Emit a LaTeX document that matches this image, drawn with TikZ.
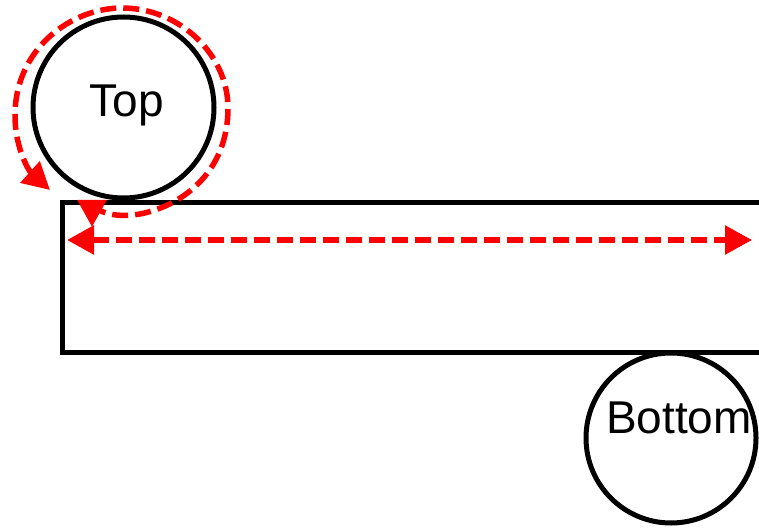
\documentclass[tikz,border=0pt]{standalone}
\usepackage{fontspec}
\setmainfont{Liberation Sans}
\usetikzlibrary{arrows.meta}
\begin{document}
\begin{tikzpicture}[x=1pt,y=-1pt,
  outline/.style={draw=black, line width=5pt},
  ball/.style={outline, circle, inner sep=0pt},
  slab/.style={outline, rectangle, inner sep=0pt, anchor=north west},
  tag/.style={font=\fontsize{46}{55}\selectfont, anchor=base, inner sep=0pt},
  tip/.tip={Triangle[length=27pt,width=28pt]},
  motion/.style={draw=red, line width=5.5pt, dash pattern=on 16pt off 7pt, tip-tip}]
\useasboundingbox (0,0) rectangle (759,529);
\clip (0,0) rectangle (759,529);

% the plate and the two rollers
\node[slab, minimum width=701pt, minimum height=150pt] (plate) at (59.5,200) {};
\node[ball, minimum size=181pt] (top) at (123.5,107.5) {};
\node[ball, minimum size=170pt] (bottom) at (671,438) {};
\node[tag] (toplabel) at (127,117) {Top};
\node[tag] (bottomlabel) at (679,433) {Bottom};

% travel of the plate
\coordinate (spanL) at (67,240);
\coordinate (spanR) at (752,240);
\draw[motion] (spanL) -- (spanR);

% rotation of the top roller
\coordinate (rollA) at (50,190);
\coordinate (rollB) at (92,227);
\draw[motion] (rollA)
  .. controls (30,172) and (15,150) .. (15,115)
  .. controls (15,50) and (70,8) .. (122,8)
  .. controls (180,8) and (228,55) .. (228,108)
  .. controls (228,170) and (185,205) .. (140,214)
  .. controls (112,219) and (92,210) .. (rollB);
\end{tikzpicture}
\end{document}
